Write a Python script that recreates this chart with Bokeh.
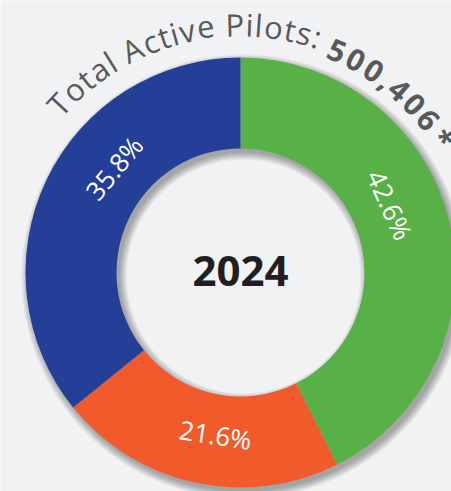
import math
from bokeh.plotting import figure
from bokeh.models import ColumnDataSource, Range1d
from bokeh.core.properties import value
from bokeh.embed import file_html
from bokeh.resources import INLINE

# ---------------- data ----------------
segments = ["Segment 1", "Segment 2", "Segment 3"]
shares = [42.6, 21.6, 35.8]
seg_colors = ["#58b146", "#f15a2b", "#233f98"]
year_label = "2024"
title_lead = "Total Active Pilots: "
title_total = "500,406 *"

# ---------------- layout / style ----------------
W, H = 451, 491
CX, CY = 240, 272          # donut centre in figure pixels (from top-left)
R_IN, R_OUT = 124, 215
R_LABEL = 164
R_TITLE = 248              # radius of regular text middle line
R_TITLE_BOLD = 242         # radius of bold text middle line
REG_START, REG_K = 139.5, 0.00816     # start angle (deg) and deg per width unit
BOLD_START, BOLD_K = 69.0, 0.00867
label_shift_deg = [11.0, 3.5, -14.0]
BG = "#f1f2f4"
TXT = "#58595b"

p = figure(width=W, height=H, output_backend="svg", toolbar_location=None,
           x_range=Range1d(-CX, W - CX), y_range=Range1d(-(H - CY), CY),
           x_axis_type=None, y_axis_type=None, min_border=0,
           background_fill_color=BG, border_fill_color=BG)
p.outline_line_color = None
p.grid.visible = False

# drop shadow of the ring
for k in range(9):
    p.annulus(x=[3], y=[-4], inner_radius=R_IN - k * 0.9, outer_radius=R_OUT + k * 0.9,
              fill_color="black", fill_alpha=0.04, line_color=None)

# segments (clockwise from 12 o'clock)
cum = 0.0
starts, ends, mids = [], [], []
for s in shares:
    a0 = math.pi / 2 - 2 * math.pi * cum / 100.0
    cum += s
    a1 = math.pi / 2 - 2 * math.pi * cum / 100.0
    starts.append(a1)
    ends.append(a0)
    mids.append((a0 + a1) / 2)

src = ColumnDataSource(dict(name=segments, share=shares, color=seg_colors,
                            start=starts, end=ends))
p.annular_wedge(x=0, y=0, inner_radius=R_IN, outer_radius=R_OUT,
                start_angle="start", end_angle="end", fill_color="color",
                line_color=None, source=src)

# percentage labels, tangential
lx, ly, lt, la = [], [], [], []
for s, m, sh in zip(shares, mids, label_shift_deg):
    th = m + math.radians(sh)
    ang = th - math.pi / 2
    if math.cos(ang) < 0:
        ang += math.pi
    lx.append(R_LABEL * math.cos(th))
    ly.append(R_LABEL * math.sin(th))
    lt.append(f"{s:.1f}%")
    la.append(ang)
p.text(x=lx, y=ly, text=lt, angle=la, text_color="white",
       text_font=value("Open Sans"), text_font_size=value("26px"),
       text_align="center", text_baseline="middle")

# centre year
p.text(x=[0], y=[2], text=[year_label], text_color="#231f20",
       text_font=value("Open Sans"), text_font_style="bold",
       text_font_size=value("42px"), text_align="center", text_baseline="middle")

# curved title
reg_w = {' ': 260, 'T': 556, 'o': 602, 't': 344, 'a': 556, 'l': 258, 'A': 633,
         'c': 479, 'i': 258, 'v': 500, 'e': 561, 'P': 586, 's': 479, ':': 266}
bold_w = {' ': 90, ',': 300, '*': 551}


def arc_chars(text, widths, default_w, start_deg, k, r):
    xs, ys, ts, angs = [], [], [], []
    acc = 0.0
    for c in text:
        w = widths.get(c, default_w)
        th = math.radians(start_deg - k * (acc + w / 2))
        acc += w
        if c == " ":
            continue
        xs.append(r * math.cos(th))
        ys.append(r * math.sin(th))
        ts.append(c)
        angs.append(th - math.pi / 2)
    return dict(x=xs, y=ys, t=ts, a=angs)


reg = arc_chars(title_lead, reg_w, 560, REG_START, REG_K, R_TITLE)
bold = arc_chars(title_total, bold_w, 572, BOLD_START, BOLD_K, R_TITLE_BOLD)
p.text(x=reg["x"], y=reg["y"], text=reg["t"], angle=reg["a"], text_color=TXT,
       text_font=value("Open Sans"), text_font_size=value("31px"),
       text_align="center", text_baseline="middle")
p.text(x=bold["x"], y=bold["y"], text=bold["t"], angle=bold["a"], text_color=TXT,
       text_font=value("Open Sans"), text_font_style="bold",
       text_font_size=value("30px"),
       text_align="center", text_baseline="middle")

open("out.html", "w").write(file_html(p, INLINE))
